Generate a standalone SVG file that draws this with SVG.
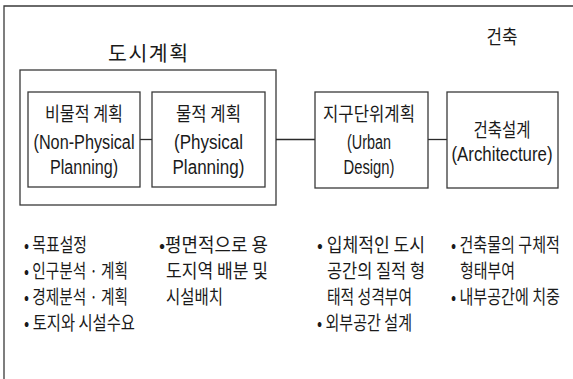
<svg xmlns="http://www.w3.org/2000/svg" width="573" height="379" viewBox="0 0 573 379">
<style>
.frame{fill:none;stroke:#3a3a3a;stroke-width:1.3}
.box{fill:#fff;stroke:#3a3a3a;stroke-width:1.3}
.ln{fill:none;stroke:#2a2a2a;stroke-width:1.3}
text{fill:#1a1a1a;font-family:"Noto Sans CJK KR","Liberation Sans",sans-serif}
.lat{font-family:"Liberation Sans","Noto Sans CJK KR",sans-serif;font-size:20px}
.ko{font-size:19.5px}
.b{font-size:19px}
.c{text-anchor:middle}
</style>
<rect width="573" height="379" fill="#fff"/>
<path class="frame" d="M4 379V6H573"/>
<g id="title-city"><text class="c" x="148" y="61" font-size="20.5" textLength="80" lengthAdjust="spacing">도시계획</text></g>
<g id="title-arch"><text class="c ko" x="502" y="44" textLength="31" lengthAdjust="spacingAndGlyphs">건축</text></g>
<g id="city-planning"><rect class="box" x="20" y="70" width="256" height="135"/></g>
<g id="connectors">
<path class="ln" d="M140 139.5H152"/>
<path class="ln" d="M276 139.5H315"/>
<path class="ln" d="M428 139.5H447"/>
</g>
<g id="non-physical">
<rect class="box" x="28" y="92" width="112" height="95"/>
<text class="c ko" x="84" y="121" textLength="78" lengthAdjust="spacingAndGlyphs">비물적 계획</text>
<text class="c lat" x="84" y="149" textLength="101" lengthAdjust="spacingAndGlyphs">(Non-Physical</text>
<text class="c lat" x="84" y="174" textLength="68" lengthAdjust="spacingAndGlyphs">Planning)</text>
</g>
<g id="physical">
<rect class="box" x="152" y="92" width="113" height="95"/>
<text class="c ko" x="208.5" y="121" textLength="65" lengthAdjust="spacingAndGlyphs">물적 계획</text>
<text class="c lat" x="208.5" y="149" textLength="69" lengthAdjust="spacingAndGlyphs">(Physical</text>
<text class="c lat" x="208.5" y="174" textLength="72" lengthAdjust="spacingAndGlyphs">Planning)</text>
</g>
<g id="urban-design">
<rect class="box" x="315" y="92" width="113" height="96"/>
<text class="c ko" x="369" y="121" textLength="92" lengthAdjust="spacingAndGlyphs">지구단위계획</text>
<text class="c lat" x="369" y="149" textLength="44" lengthAdjust="spacingAndGlyphs">(Urban</text>
<text class="c lat" x="369" y="174" textLength="51" lengthAdjust="spacingAndGlyphs">Design)</text>
</g>
<g id="architecture">
<rect class="box" x="447" y="92" width="111" height="96"/>
<text class="c ko" x="502" y="137" textLength="57" lengthAdjust="spacingAndGlyphs">건축설계</text>
<text class="c lat" x="502" y="161" textLength="101" lengthAdjust="spacingAndGlyphs">(Architecture)</text>
</g>
<g id="notes-nonphysical" class="b">
<text x="24" y="252" textLength="63" lengthAdjust="spacingAndGlyphs">• 목표설정</text>
<text x="24" y="278" textLength="104" lengthAdjust="spacingAndGlyphs">• 인구분석 · 계획</text>
<text x="24" y="304" textLength="104" lengthAdjust="spacingAndGlyphs">• 경제분석 · 계획</text>
<text x="24" y="330" textLength="111" lengthAdjust="spacingAndGlyphs">• 토지와 시설수요</text>
</g>
<g id="notes-physical" class="b">
<text x="159" y="252" textLength="109" lengthAdjust="spacingAndGlyphs">•평면적으로 용</text>
<text x="166" y="278" textLength="102" lengthAdjust="spacingAndGlyphs">도지역 배분 및</text>
<text x="166" y="304" textLength="57" lengthAdjust="spacingAndGlyphs">시설배치</text>
</g>
<g id="notes-urban" class="b">
<text x="317" y="252" textLength="108" lengthAdjust="spacingAndGlyphs">• 입체적인  도시</text>
<text x="327" y="278" textLength="98" lengthAdjust="spacingAndGlyphs">공간의 질적 형</text>
<text x="327" y="304" textLength="85" lengthAdjust="spacingAndGlyphs">태적 성격부여</text>
<text x="317" y="330" textLength="95" lengthAdjust="spacingAndGlyphs">• 외부공간 설계</text>
</g>
<g id="notes-arch" class="b" transform="translate(451 0) scale(0.75 1)">
<text x="0" y="252" textLength="145.3" lengthAdjust="spacingAndGlyphs">• 건축물의 구체적</text>
<text x="12" y="278" textLength="73.3" lengthAdjust="spacingAndGlyphs">형태부여</text>
<text x="0" y="304" textLength="145.3" lengthAdjust="spacingAndGlyphs">• 내부공간에 치중</text>
</g>
</svg>
